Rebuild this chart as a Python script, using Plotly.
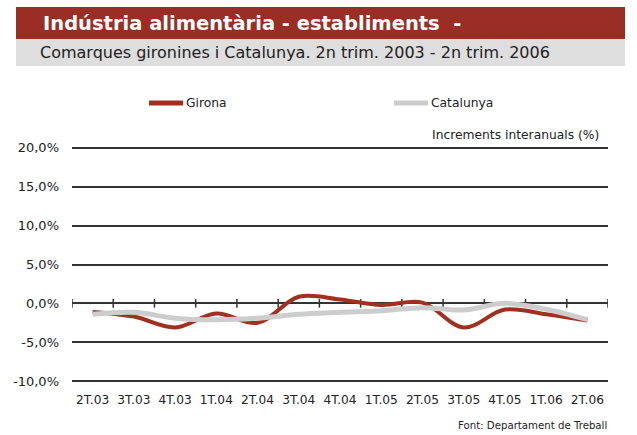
import plotly.graph_objects as go

categories = ["2T.03", "3T.03", "4T.03", "1T.04", "2T.04", "3T.04", "4T.04",
              "1T.05", "2T.05", "3T.05", "4T.05", "1T.06", "2T.06"]
girona = [-1.1, -1.7, -3.1, -1.3, -2.5, 0.85, 0.5, -0.2, 0.1, -3.1, -0.8, -1.4, -2.2]
catalunya = [-1.4, -1.15, -1.9, -2.1, -1.9, -1.4, -1.15, -0.95, -0.55, -0.85, 0.0, -0.75, -2.1]
y_ticks = [-10, -5, 0, 5, 10, 15, 20]
y_ticktext = ["-10,0%", "-5,0%", "0,0%", "5,0%", "10,0%", "15,0%", "20,0%"]

RED = "#a1301f"
GREY = "#cdcdcd"
DARK = "#333333"
FONT = "DejaVu Sans, sans-serif"

# plot area in pixels
L, R, T, B = 72, 608, 144, 385
W, H = 637, 435


def px(x):
    return (x - L) / (R - L)


def py(y):
    return (B - y) / (B - T)


xs = list(range(len(categories)))

fig = go.Figure()

# tick marks on zero line at category boundaries
tx, ty = [], []
for i in range(len(categories) + 1):
    tx += [i - 0.5, i - 0.5, None]
    ty += [-0.55, 0.55, None]
fig.add_trace(go.Scatter(x=tx, y=ty, mode="lines", line=dict(color=DARK, width=1.5),
                         hoverinfo="skip", showlegend=False))

fig.add_trace(go.Scatter(x=xs, y=girona, mode="lines", name="Girona",
                         line=dict(color=RED, width=4, shape="spline", smoothing=1.0),
                         showlegend=False))
fig.add_trace(go.Scatter(x=xs, y=catalunya, mode="lines", name="Catalunya",
                         line=dict(color=GREY, width=5, shape="spline", smoothing=1.0),
                         showlegend=False))

shapes = [
    dict(type="rect", xref="paper", yref="paper", x0=px(16), x1=px(625), y0=py(39), y1=py(7),
         fillcolor="#9a2e24", line=dict(width=0), layer="below"),
    dict(type="rect", xref="paper", yref="paper", x0=px(16), x1=px(625), y0=py(66), y1=py(39),
         fillcolor="#dedede", line=dict(width=0), layer="below"),
    dict(type="line", xref="paper", yref="paper", x0=px(149), x1=px(183), y0=py(103), y1=py(103),
         line=dict(color=RED, width=5)),
    dict(type="line", xref="paper", yref="paper", x0=px(394), x1=px(428), y0=py(103), y1=py(103),
         line=dict(color=GREY, width=5)),
]

annotations = [
    dict(text="<b>Indústria alimentària - establiments  -</b>", xref="paper", yref="paper",
         x=px(41), y=py(23), xanchor="left", yanchor="middle", showarrow=False,
         font=dict(family=FONT, size=19.5, color="white")),
    dict(text="Comarques gironines i Catalunya. 2n trim. 2003 - 2n trim. 2006", xref="paper",
         yref="paper", x=px(38), y=py(52), xanchor="left", yanchor="middle", showarrow=False,
         font=dict(family=FONT, size=16, color="#222222")),
    dict(text="Girona", xref="paper", yref="paper", x=px(184), y=py(103), xanchor="left",
         yanchor="middle", showarrow=False, font=dict(family=FONT, size=12.3, color="#222222")),
    dict(text="Catalunya", xref="paper", yref="paper", x=px(429), y=py(103), xanchor="left",
         yanchor="middle", showarrow=False, font=dict(family=FONT, size=12.3, color="#222222")),
    dict(text="Increments interanuals (%)", xref="paper", yref="paper", x=px(601), y=py(135),
         xanchor="right", yanchor="middle", showarrow=False,
         font=dict(family=FONT, size=12.3, color="#222222")),
    dict(text="Font: Departament de Treball", xref="paper", yref="paper", x=px(609), y=py(425),
         xanchor="right", yanchor="middle", showarrow=False,
         font=dict(family=FONT, size=10.2, color="#222222")),
]

fig.update_layout(
    width=W, height=H,
    margin=dict(l=L, r=W - R, t=T, b=H - B, pad=0),
    paper_bgcolor="white", plot_bgcolor="white",
    showlegend=False,
    shapes=shapes, annotations=annotations,
    font=dict(family=FONT, size=13, color="#222222"),
    xaxis=dict(range=[-0.5, len(categories) - 0.5], tickvals=xs, ticktext=categories,
               showgrid=False, zeroline=False, showline=False, ticks="",
               tickfont=dict(family=FONT, size=12.2, color="#222222"), ticklabelstandoff=6,
               fixedrange=True),
    yaxis=dict(range=[-10.5, 20.5], tickvals=y_ticks, ticktext=y_ticktext, showgrid=True,
               gridcolor=DARK, gridwidth=1.5, zeroline=False, showline=False, ticks="",
               tickfont=dict(family=FONT, size=13, color="#222222"), ticklabelstandoff=12,
               fixedrange=True),
)

fig.write_html("out.html", config={"displayModeBar": False},
               post_script="document.body.style.margin='0px';")
